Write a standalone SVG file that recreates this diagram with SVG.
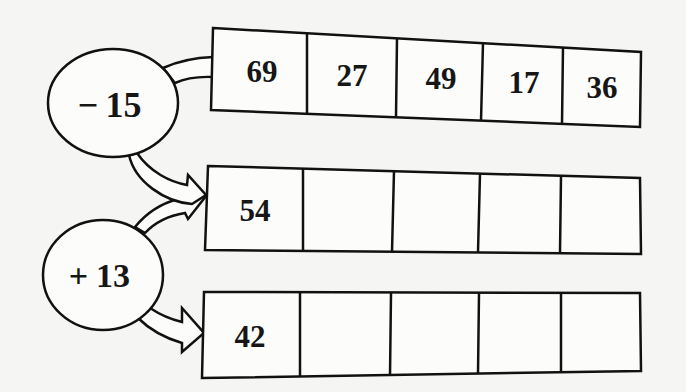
<svg xmlns="http://www.w3.org/2000/svg" width="686" height="392" viewBox="0 0 686 392">
<style>
.s{fill:#fcfcfa;stroke:#111;stroke-width:2.5;stroke-linejoin:miter}
.d{stroke:#111;stroke-width:2.5;fill:none}
.t{font-family:"Liberation Serif","Times New Roman",serif;font-weight:bold;font-size:31px;fill:#161616;text-anchor:middle}
.o{font-size:36px}
</style>
<rect width="686" height="392" fill="#f5f5f3"/>
<g id="connectors">
<path class="s" d="M163,68 Q185,58 213,57 L213,77 Q190,76 175,83 Z"/>
<path class="s" d="M135,227 Q152,206 178,199 L196,194 L206,196 L188,219 L185,213 Q160,217 145,233 Z"/>
<path class="s" d="M137,153 C150,172 170,182 187,185 L188,175 L206,195 L192,204 C165,202 135,182 129,155 Z"/>
<path class="s" d="M150,308 Q165,318 182,322 L182,308 L204,333 L182,352 L182,343 Q155,335 138,318 Z"/>
</g>
<g id="op-minus15">
<ellipse class="s" cx="113" cy="103" rx="65" ry="54"/>
<text class="t o" y="117"><tspan x="88">−</tspan><tspan x="123.5">15</tspan></text>
</g>
<g id="op-plus13">
<ellipse class="s" cx="103" cy="275" rx="60" ry="55"/>
<text class="t o" y="287" style="font-size:34px"><tspan x="78.5">+</tspan><tspan x="113">13</tspan></text>
</g>
<g id="row1">
<path class="s" d="M213,28 L641,52 L640,127 L211,110 Z"/>
<path class="d" d="M307,33 L307,114 M397,38 L396,117 M483,43 L481,121 M563,47 L562,124"/>
<text class="t" x="262" y="82">69</text>
<text class="t" x="352" y="86">27</text>
<text class="t" x="441" y="89">49</text>
<text class="t" x="524" y="93">17</text>
<text class="t" x="602" y="98">36</text>
</g>
<g id="row2">
<path class="s" d="M208,166 L640,178 L641,254 L205,250 Z"/>
<path class="d" d="M303,169 L303,251 M394,171 L392,252 M480,174 L478,252 M561,176 L560,253"/>
<text class="t" x="255" y="221">54</text>
</g>
<g id="row3">
<path class="s" d="M204,292 L640,293 L641,371 L202,378 Z"/>
<path class="d" d="M300,292 L300,377 M391,293 L390,376 M479,293 L478,374 M561,293 L561,373"/>
<text class="t" x="250" y="347">42</text>
</g>
</svg>
